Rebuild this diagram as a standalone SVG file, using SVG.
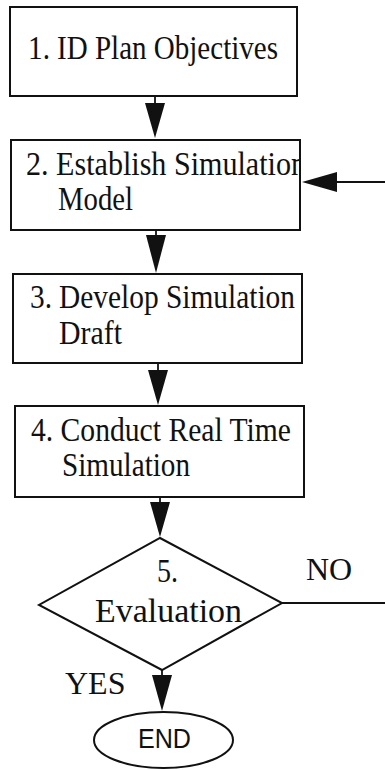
<svg xmlns="http://www.w3.org/2000/svg" width="385" height="770" viewBox="0 0 385 770">
<style>
.box{fill:#fff;stroke:#111;stroke-width:2}
.t{font-family:"Liberation Serif","Times New Roman",serif;font-size:33px;fill:#111}
.lbl{font-family:"Liberation Serif","Times New Roman",serif;font-size:32px;fill:#111}
.end{font-family:"Liberation Sans",Arial,sans-serif;font-size:28px;fill:#111}
.ln{stroke:#111;stroke-width:1.8;fill:none}
.ah{fill:#111}
</style>
<defs>
<clipPath id="c2"><rect x="11" y="140" width="289" height="90"/></clipPath>
</defs>
<rect width="385" height="770" fill="#fff"/>
<g id="connectors">
<line class="ln" x1="155" y1="96" x2="155" y2="104"/>
<polygon class="ah" points="145,103 165,103 155,138"/>
<line class="ln" x1="156" y1="230" x2="156" y2="236"/>
<polygon class="ah" points="146,235 166,235 156,273"/>
<line class="ln" x1="158" y1="363" x2="158" y2="371"/>
<polygon class="ah" points="148,370 168,370 158,405"/>
<line class="ln" x1="160" y1="497" x2="160" y2="503"/>
<polygon class="ah" points="150,502 170,502 160,537"/>
<line class="ln" x1="162" y1="670" x2="162" y2="676"/>
<polygon class="ah" points="152,675 172,675 162,711"/>
<line class="ln" x1="282" y1="603" x2="385" y2="603"/>
<line class="ln" x1="336" y1="182" x2="385" y2="182"/>
<polygon class="ah" points="337,172 337,192 302,182"/>
</g>
<g id="n1">
<rect class="box" x="10" y="7" width="287" height="89"/>
<text class="t" y="59"><tspan x="28" textLength="22" lengthAdjust="spacingAndGlyphs">1.</tspan><tspan x="57" textLength="221" lengthAdjust="spacingAndGlyphs">ID Plan Objectives</tspan></text>
</g>
<g id="n2">
<rect class="box" x="11" y="140" width="289" height="90"/>
<text class="t" x="26" y="175" textLength="280" lengthAdjust="spacingAndGlyphs" clip-path="url(#c2)">2. Establish Simulation</text>
<text class="t" x="58" y="210" textLength="75" lengthAdjust="spacingAndGlyphs">Model</text>
<rect x="11" y="140" width="289" height="90" fill="none" stroke="#111" stroke-width="2"/>
</g>
<g id="n3">
<rect class="box" x="13" y="274" width="289" height="89"/>
<text class="t" y="308"><tspan x="30" textLength="22" lengthAdjust="spacingAndGlyphs">3.</tspan><tspan x="59" textLength="236" lengthAdjust="spacingAndGlyphs">Develop Simulation</tspan></text>
<text class="t" x="59" y="344" textLength="63" lengthAdjust="spacingAndGlyphs">Draft</text>
</g>
<g id="n4">
<rect class="box" x="15" y="406" width="289" height="91"/>
<text class="t" x="31" y="441" textLength="260" lengthAdjust="spacingAndGlyphs">4. Conduct Real Time</text>
<text class="t" x="62" y="476" textLength="128" lengthAdjust="spacingAndGlyphs">Simulation</text>
</g>
<g id="n5">
<polygon class="box" points="160,538 282,603 162,670 39,605"/>
<text class="t" x="157" y="582" textLength="21" lengthAdjust="spacingAndGlyphs">5.</text>
<text class="t" x="95" y="622" textLength="147" lengthAdjust="spacingAndGlyphs">Evaluation</text>
</g>
<g id="labels">
<text class="lbl" x="306" y="580">NO</text>
<text class="lbl" x="65" y="694">YES</text>
</g>
<g id="end">
<ellipse class="box" cx="163.5" cy="740" rx="69.5" ry="28"/>
<text class="end" x="138" y="748" textLength="53" lengthAdjust="spacingAndGlyphs">END</text>
</g>
</svg>
